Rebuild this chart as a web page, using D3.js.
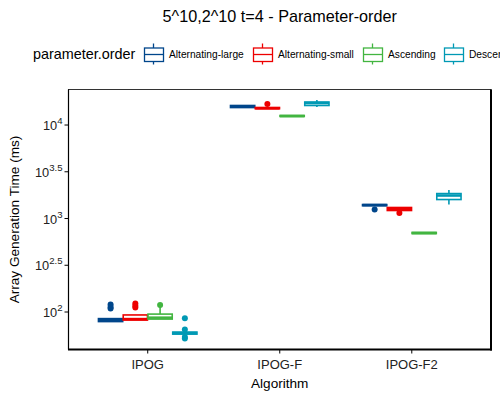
<!DOCTYPE html>
<html><head><meta charset="utf-8">
<script src="https://cdn.jsdelivr.net/npm/d3@7"></script>
<style>body{margin:0;background:#fff}svg{font-family:"Liberation Sans",Arial,sans-serif}</style>
</head><body><svg id="c" width="500" height="400"></svg>
<script>
const title = "5^10,2^10 t=4 - Parameter-order";
const algorithms = ["IPOG", "IPOG-F", "IPOG-F2"];
const orders = ["Alternating-large", "Alternating-small", "Ascending", "Descending"];
const colors = ["#00468B", "#ED0000", "#42B540", "#0099B4"];
const yTickExps = ["2", "2.5", "3", "3.5", "4"];
// five-number summaries in ms: [lowerWhisker, q1, median, q3, upperWhisker], per algorithm then order
const ipogStats = [[79, 79, 82, 85, 85], [82, 82, 84, 93, 93], [84, 84, 87, 95, 113], [58, 58, 59.5, 61, 61]];
const ipogFStats = [[15300, 15380, 15770, 16180, 16300], [14900, 14950, 15100, 15400, 15500], [12300, 12350, 12470, 12650, 12700], [15600, 16180, 17180, 17620, 18500]];
const ipogF2Stats = [[1360, 1370, 1393, 1410, 1420], [1218, 1218, 1265, 1312, 1312], [690, 690, 699, 710, 710], [1412, 1596, 1762, 1849, 2018]];
// outliers in ms
const ipogOut = [[109, 113, 120], [112, 117, 123], [119], [86, 65, 54, 52]];
const ipogFOut = [[], [16790], [], []];
const ipogF2Out = [[1248], [1145], [], []];

const statsAll = [ipogStats, ipogFStats, ipogF2Stats];
const outAll = [ipogOut, ipogFOut, ipogF2Out];

const svg = d3.select("#c");
const L = 68.5, R = 491, T = 89.5, B = 349.5;

// emulate ggplot discrete expansion (0.6 units each side)
const x = d3.scalePoint().domain(algorithms).range([L, R]).padding(0.6);
const unit = x.step();
const y = d3.scaleLog().domain([Math.pow(10, 1.599), Math.pow(10, 4.38)]).range([B, T]);

const groupW = unit * 0.75;
const bw = groupW / orders.length;
const boxW = bw * 0.98;

// title
svg.append("text").attr("x", (L + R) / 2).attr("y", 22).attr("text-anchor", "middle")
  .attr("font-size", 16.2).attr("fill", "#000").text(title);

// legend
const lg = svg.append("g");
lg.append("text").attr("x", 33).attr("y", 59).attr("font-size", 14.4).text("parameter.order");
const keyX = [144, 253, 363, 444];
orders.forEach((o, i) => {
  const g = lg.append("g").attr("transform", `translate(${keyX[i]},0)`);
  const c = colors[i];
  g.append("line").attr("x1", 9.5).attr("x2", 9.5).attr("y1", 43.5).attr("y2", 64.5).attr("stroke", c).attr("stroke-width", 1.3);
  g.append("rect").attr("x", 0.5).attr("y", 48).attr("width", 19).attr("height", 13.5).attr("fill", "#fff").attr("stroke", c).attr("stroke-width", 1.3);
  g.append("line").attr("x1", 0.5).attr("x2", 19.5).attr("y1", 54.5).attr("y2", 54.5).attr("stroke", c).attr("stroke-width", 1.3);
  g.append("text").attr("x", 25).attr("y", 58).attr("font-size", 10.2).text(o);
});

// panel border
svg.append("rect").attr("x", L).attr("y", T).attr("width", R - L).attr("height", B - T)
  .attr("fill", "none").attr("stroke", "#333").attr("stroke-width", 1);
svg.append("line").attr("x1", L - 0.5).attr("x2", R + 1).attr("y1", B).attr("y2", B).attr("stroke", "#000").attr("stroke-width", 2);
svg.append("line").attr("x1", R).attr("x2", R).attr("y1", T).attr("y2", B + 1).attr("stroke", "#000").attr("stroke-width", 2);
svg.append("line").attr("x1", L).attr("x2", L).attr("y1", T).attr("y2", B).attr("stroke", "#000").attr("stroke-width", 1.2);

// y axis ticks
yTickExps.forEach(e => {
  const yy = y(Math.pow(10, +e));
  svg.append("line").attr("x1", L - 4).attr("x2", L).attr("y1", yy).attr("y2", yy).attr("stroke", "#000").attr("stroke-width", 1);
  const t = svg.append("text").attr("x", L - 6).attr("y", yy + 5).attr("text-anchor", "end").attr("font-size", 12.8).attr("fill", "#222");
  t.append("tspan").text("10");
  t.append("tspan").attr("dy", -6).attr("font-size", 9.6).text(e);
});

// x axis ticks
algorithms.forEach(a => {
  const xx = x(a);
  svg.append("line").attr("x1", xx).attr("x2", xx).attr("y1", B).attr("y2", B + 4).attr("stroke", "#000");
  svg.append("text").attr("x", xx).attr("y", B + 19).attr("text-anchor", "middle").attr("font-size", 13).attr("fill", "#222").text(a);
});

// axis titles
svg.append("text").attr("x", (L + R) / 2).attr("y", 388).attr("text-anchor", "middle").attr("font-size", 13.6).text("Algorithm");
svg.append("text").attr("transform", `translate(19,${(T + B) / 2}) rotate(-90)`).attr("text-anchor", "middle")
  .attr("font-size", 13.6).text("Array Generation Time (ms)");

// boxes
const plot = svg.append("g");
algorithms.forEach((a, ai) => {
  orders.forEach((o, oi) => {
    const s = statsAll[ai][oi];
    const c = colors[oi];
    const cx = x(a) - groupW / 2 + bw * (oi + 0.5);
    const g = plot.append("g");
    const lw = 1.6;
    g.append("line").attr("x1", cx).attr("x2", cx).attr("y1", y(s[0])).attr("y2", y(s[1])).attr("stroke", c).attr("stroke-width", lw);
    g.append("line").attr("x1", cx).attr("x2", cx).attr("y1", y(s[3])).attr("y2", y(s[4])).attr("stroke", c).attr("stroke-width", lw);
    g.append("rect").attr("x", cx - boxW / 2).attr("y", y(s[3])).attr("width", boxW).attr("height", Math.max(0.1, y(s[1]) - y(s[3])))
      .attr("fill", "#fff").attr("stroke", c).attr("stroke-width", lw);
    g.append("line").attr("x1", cx - boxW / 2).attr("x2", cx + boxW / 2).attr("y1", y(s[2])).attr("y2", y(s[2])).attr("stroke", c).attr("stroke-width", lw * 1.6);
    outAll[ai][oi].forEach(v => {
      g.append("circle").attr("cx", cx).attr("cy", y(v)).attr("r", 3).attr("fill", c);
    });
  });
});
</script></body></html>
